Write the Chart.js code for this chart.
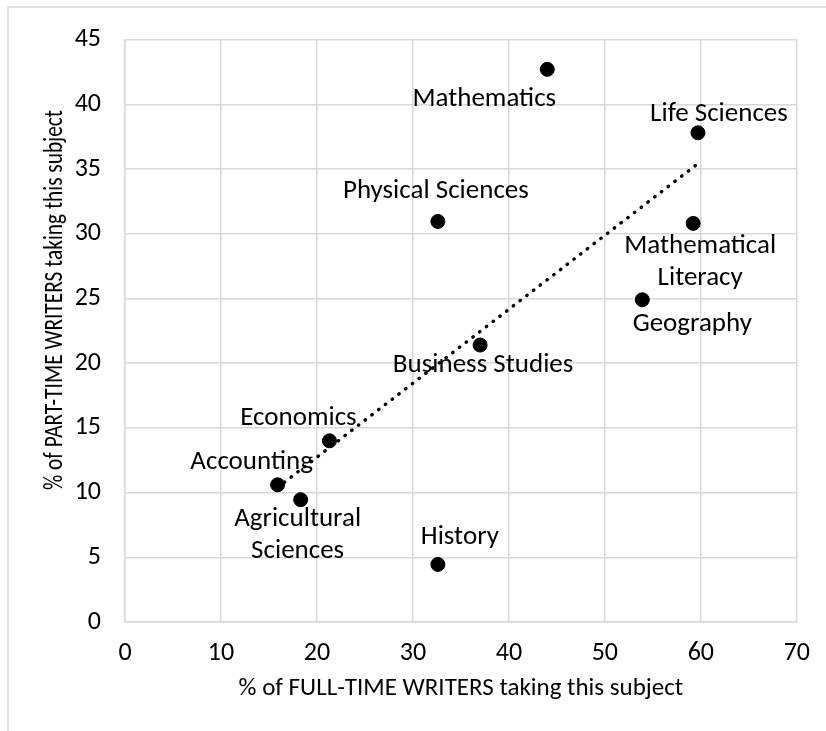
<!DOCTYPE html>
<html>
<head>
<meta charset="utf-8">
<script src="https://cdn.jsdelivr.net/npm/chart.js@4.4.1/dist/chart.umd.min.js"></script>
<style>
  html, body { margin: 0; padding: 0; background: #fff; }
  #wrap { width: 826px; height: 731px; }
</style>
</head>
<body>
<div id="wrap"><canvas id="myChart" width="826" height="731"></canvas></div>
<script>
// subjects (multi-line names are split the way the labels wrap)
const subjects = [
  ['Mathematics'],
  ['Life Sciences'],
  ['Physical Sciences'],
  ['Mathematical', 'Literacy'],
  ['Geography'],
  ['Business Studies'],
  ['Economics'],
  ['Accounting'],
  ['Agricultural', 'Sciences'],
  ['History']
];
// % of full-time writers taking the subject
const fullTime = [44.0, 59.7, 32.6, 59.2, 53.9, 37.0, 21.3, 15.9, 18.3, 32.6];
// % of part-time writers taking the subject
const partTime = [42.7, 37.8, 30.95, 30.8, 24.9, 21.4, 14.0, 10.6, 9.45, 4.45];

const xTicks = [0, 10, 20, 30, 40, 50, 60, 70];
const yTicks = [0, 5, 10, 15, 20, 25, 30, 35, 40, 45];

const xTitle = '% of FULL-TIME WRITERS taking this subject';
const yTitle = '% of PART-TIME WRITERS taking this subject';

// where each data label sits, relative to its marker (px)
const labelOffsets = [
  [-63, 30], [21, -19], [-2, -30], [7, 23], [50, 25],
  [3, 20], [-31, -23], [-26, -23], [-3, 20], [22, -27]
];

const FONT = "Carlito, Calibri, Lato, sans-serif";
const gridColor = '#d9d9d9';

// linear trendline (least squares), drawn from min x to max x like Excel
function trend(xs, ys) {
  const n = xs.length;
  const mx = xs.reduce((a, b) => a + b, 0) / n;
  const my = ys.reduce((a, b) => a + b, 0) / n;
  let sxy = 0, sxx = 0;
  xs.forEach((x, i) => { sxy += (x - mx) * (ys[i] - my); sxx += (x - mx) * (x - mx); });
  const slope = sxy / sxx;
  const icpt = my - slope * mx;
  const x0 = Math.min(...xs), x1 = Math.max(...xs);
  return [{x: x0, y: icpt + slope * x0}, {x: x1, y: icpt + slope * x1}];
}

const points = fullTime.map((x, i) => ({x: x, y: partTime[i]}));

const frame = {
  id: 'frame',
  beforeDraw(chart) {
    const ctx = chart.ctx;
    ctx.save();
    ctx.fillStyle = '#fff';
    ctx.fillRect(0, 0, chart.width, chart.height);
    ctx.strokeStyle = gridColor;
    ctx.lineWidth = 1.5;
    ctx.strokeRect(8, 7, chart.width + 20, chart.height + 20);
    ctx.restore();
  }
};

const dataLabels = {
  id: 'dataLabels',
  afterDatasetsDraw(chart) {
    const ctx = chart.ctx;
    const meta = chart.getDatasetMeta(1);
    ctx.save();
    ctx.font = '27px ' + FONT;
    ctx.fillStyle = '#000';
    ctx.textAlign = 'center';
    ctx.textBaseline = 'middle';
    meta.data.forEach((pt, i) => {
      const [dx, dy] = labelOffsets[i];
      subjects[i].forEach((line, j) => {
        ctx.fillText(line, pt.x + dx, pt.y + dy + j * 32);
      });
    });
    ctx.restore();
  }
};

const sideTitle = {
  id: 'sideTitle',
  afterDraw(chart) {
    const ctx = chart.ctx;
    ctx.save();
    ctx.font = '26px ' + FONT;
    ctx.fillStyle = '#000';
    ctx.textAlign = 'center';
    ctx.textBaseline = 'middle';
    ctx.translate(55, 300);
    ctx.rotate(-Math.PI / 2);
    const w = ctx.measureText(yTitle).width;
    ctx.scale(Math.min(1, 380 / w), 1);
    ctx.fillText(yTitle, 0, 0);
    ctx.restore();
  }
};

new Chart(document.getElementById('myChart'), {
  type: 'scatter',
  plugins: [frame, dataLabels, sideTitle],
  data: {
    datasets: [
      {
        type: 'line',
        data: trend(fullTime, partTime),
        borderColor: '#000',
        borderWidth: 3.4,
        borderDash: [0.5, 8],
        borderCapStyle: 'round',
        pointRadius: 0,
        fill: false
      },
      {
        data: points,
        backgroundColor: '#000',
        borderColor: '#000',
        pointRadius: 7,
        pointHoverRadius: 7
      }
    ]
  },
  options: {
    responsive: false,
    devicePixelRatio: 1,
    animation: false,
    layout: { padding: { left: 8, right: 28, top: 35, bottom: 0 } },
    plugins: { legend: { display: false }, tooltip: { enabled: false } },
    scales: {
      x: {
        type: 'linear',
        min: 0, max: 70,
        afterBuildTicks: s => { s.ticks = xTicks.map(v => ({value: v})); },
        afterFit: s => { s.height = 109; },
        grid: { color: gridColor, lineWidth: 1.5, drawTicks: false },
        border: { color: gridColor, width: 1.5 },
        ticks: { font: { family: FONT, size: 26 }, color: '#000', padding: 16 },
        title: {
          display: true, text: xTitle, color: '#000',
          font: { family: FONT, size: 25 }, padding: { top: 0, bottom: 27 }
        }
      },
      y: {
        type: 'linear',
        min: 0, max: 45,
        afterBuildTicks: s => { s.ticks = yTicks.map(v => ({value: v})); },
        afterFit: s => { s.width = 117; },
        grid: { color: gridColor, lineWidth: 1.5, drawTicks: false },
        border: { color: gridColor, width: 1.5 },
        ticks: { font: { family: FONT, size: 26 }, color: '#000', padding: 24 }
      }
    }
  }
});
</script>
</body>
</html>
